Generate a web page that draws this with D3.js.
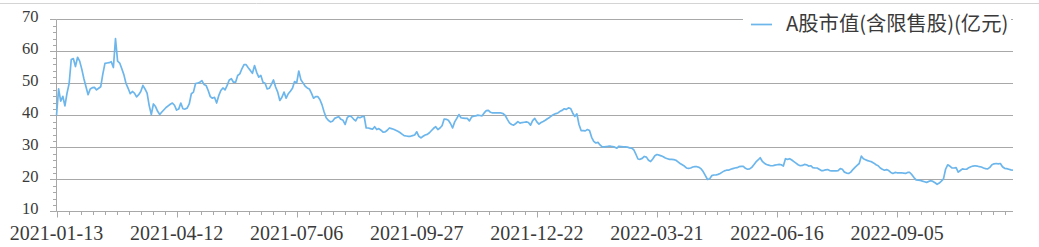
<!DOCTYPE html>
<html>
<head>
<meta charset="utf-8">
<script src="https://cdn.jsdelivr.net/npm/d3@7"></script>
<style>
  html, body { margin: 0; padding: 0; background: #fff; overflow: hidden; }
</style>
</head>
<body>
<div id="chart"></div>
<script>
// ── Data ────────────────────────────────────────────────────────────────────
const SERIES_NAME = "A股市值(含限售股)(亿元)";

// labelled trading days, one every LABEL_EVERY sessions
const DATE_LABELS = [
  "2021-01-13", "2021-04-12", "2021-07-06", "2021-09-27",
  "2021-12-22", "2022-03-21", "2022-06-16", "2022-09-05",
];
const LABEL_EVERY = 57;
const MINOR_PER_LABEL = 10;

const Y_TICKS = [10, 20, 30, 40, 50, 60, 70];

// daily market cap (亿元)
const MARKET_CAP = [
  40, 48.3, 44.5, 46, 43, 47, 50, 57.5, 57.8, 55.3,
  58.2, 57, 54.5, 51.5, 49, 46.5, 48.3, 48.7, 48.8, 48,
  48.5, 49, 53, 56.3, 56.4, 56.5, 56.8, 55, 64, 57,
  56.4, 54.6, 52.7, 50, 48.5, 46.8, 47.5, 47, 45.8, 46.5,
  47.5, 49.4, 48.3, 47, 43.1, 40.3, 43.6, 42.8, 41.3, 40.3,
  41.1, 41.8, 42.5, 43, 43.5, 43.9, 43.2, 41.7, 42, 43.9,
  42.1, 42, 42.3, 43.6, 46.8, 47.3, 50, 50.1, 50.4, 50.9,
  49.7, 49.4, 47.8, 45.9, 45.4, 45.7, 43.9, 46.2, 47.8, 48.6,
  48, 49.4, 51.1, 51.5, 50.4, 50.4, 52.5, 53, 54.6, 55.9,
  55.9, 54.9, 54.1, 53.2, 55.6, 53.5, 52, 52.5, 50.4, 50.1,
  48.3, 48.5, 49.7, 51.1, 48.9, 47.3, 44.7, 45.7, 47.3, 45.4,
  46.8, 47.6, 48.5, 50.6, 50.2, 53.9, 51.2, 50.2, 49.2, 48.6,
  48.3, 47, 45.4, 45.9, 45.9, 45, 43.4, 41.2, 39.3, 38.5,
  38, 38.2, 39.1, 39.4, 39.6, 38.8, 38.5, 37.2, 39.3, 39.9,
  39.6, 38.9, 38.3, 39.5, 39.3, 39.6, 39.8, 36.1, 36.1, 35.9,
  35.7, 36.5, 35.6, 35.9, 35.4, 34.8, 34.9, 35.4, 36.1, 35.9,
  35.7, 35.4, 35.1, 34.7, 34.2, 33.7, 33.6, 33.5, 33.5, 33.7,
  33.9, 34.9, 33.5, 33, 33.5, 33.9, 34.1, 34.6, 35.3, 36,
  36.5, 35.6, 36.1, 36.8, 38.9, 38.8, 38.5, 37.5, 36.1, 38,
  39.1, 40.3, 39.3, 39.2, 39.1, 39.1, 38.3, 39.5, 39.8, 39.9,
  40.1, 40, 39.9, 40.8, 41.5, 41.6, 41, 40.8, 40.8, 40.8,
  40.8, 40.8, 40.6, 40, 38.8, 37.7, 37.2, 37, 37.5, 38.1,
  37.6, 37.8, 37.9, 38, 37.8, 37, 38.4, 39.1, 38, 37.3,
  37.8, 38.1, 38.5, 39, 39.4, 39.9, 40.3, 40.6, 40.8, 41.3,
  41.6, 42.1, 41.9, 42.4, 42.2, 40.8, 39.7, 40.5, 37.2, 35.3,
  35.3, 35.2, 35.6, 35.3, 33.2, 31.9, 31.4, 31.6, 30.8, 30.2,
  30.2, 30.3, 30.4, 30.4, 30.3, 30.1, 29.8, 30.4, 30.3, 30.2,
  30.2, 30.1, 29.9, 29.8, 29.3, 27.9, 26.4, 26.3, 26.6, 27.2,
  27, 26, 25.6, 26.4, 27.4, 27.8, 27.6, 27.4, 27.1, 26.7,
  26.5, 26.3, 26.3, 26.2, 26, 25.5, 25, 24.6, 24.2, 23.6,
  23.5, 23.6, 23.9, 24, 24, 23.8, 23.3, 22.4, 21.2, 20,
  20.2, 21.2, 21.4, 21.4, 21.6, 21.9, 22.3, 22.7, 22.9, 22.9,
  23.2, 23.4, 23.6, 23.7, 24, 24.1, 24.1, 23.5, 23.2, 23.3,
  23.8, 24.6, 25.5, 26.1, 26.8, 25.7, 25.1, 24.7, 24.5, 24.3,
  24.3, 24.5, 24.6, 24.7, 24.6, 24.2, 26.5, 26.3, 26.5, 26.1,
  25.6, 25.1, 24.6, 24.3, 24.4, 24.7, 24.6, 24.2, 24.3, 23.7,
  23.6, 23.6, 23.2, 22.8, 22.8, 23, 23.1, 22.8, 22.7, 22.7,
  22.7, 22.8, 23.4, 23.2, 22.3, 22, 21.9, 22.3, 23.1, 23.8,
  24.4, 25, 27.3, 26.5, 26.2, 25.9, 25.7, 25.5, 25.1, 24.6,
  24.3, 23.6, 23.2, 22.9, 23.1, 22.8, 22.2, 21.9, 22.2, 22.1,
  22.1, 22.1, 22, 21.9, 22.2, 22.2, 21.5, 20.6, 19.9, 19.8,
  19.7, 19.5, 19.3, 19.1, 19.4, 19.6, 19.4, 19, 18.5, 18.9,
  19.5, 20.2, 23.2, 24.6, 24.2, 23.6, 23.6, 23.7, 22.3, 22.8,
  23.3, 23.2, 23.2, 23.7, 24, 24.2, 24.3, 24.2, 24, 23.9,
  23.6, 23.4, 23.3, 23.8, 24.6, 24.9, 25, 24.9, 25, 24,
  23.5, 23.4, 23.2, 23, 22.9,
];

// ── Layout / style ──────────────────────────────────────────────────────────
const W = 1039, H = 247;
const LINE_COLOR = "#6cb6ec";
const GRID_COLOR = "#a8a8a8";
const TEXT_COLOR = "#3a3a3a";
const AXIS_FONT = "Liberation Serif, DejaVu Serif, serif";
const LEGEND_FONT = "Noto Sans CJK SC, Noto Sans, sans-serif";

const svg = d3.select("#chart").append("svg")
  .attr("width", W).attr("height", H)
  .style("display", "block");

// thin frame line at the very top of the panel
svg.append("line")
  .attr("x1", 0).attr("x2", W).attr("y1", 3.5).attr("y2", 3.5)
  .attr("stroke", "#d4d4d4").attr("stroke-width", 1);

const x = d3.scaleLinear().domain([0, MARKET_CAP.length - 1]).range([56.5, 1013]);
const y = d3.scaleLinear().domain([10, 70]).range([211.5, 19.5]);
const [x0, x1] = x.range();

// ── Grid ────────────────────────────────────────────────────────────────────
svg.append("g").selectAll("line")
  .data(Y_TICKS.slice(1))
  .join("line")
  .attr("x1", x0).attr("x2", x1)
  .attr("y1", (d) => y(d)).attr("y2", (d) => y(d))
  .attr("stroke", GRID_COLOR).attr("stroke-width", 1);

// ── Y axis ──────────────────────────────────────────────────────────────────
const yAx = svg.append("g");
yAx.append("line")
  .attr("x1", x0).attr("x2", x0).attr("y1", y(70)).attr("y2", y(10))
  .attr("stroke", GRID_COLOR);
yAx.selectAll("line.minor")
  .data(d3.range(10, 70.01, 2).filter((v) => v % 10 !== 0))
  .join("line").attr("class", "minor")
  .attr("x1", x0 - 3.5).attr("x2", x0)
  .attr("y1", (d) => Math.round(y(d)) + 0.5).attr("y2", (d) => Math.round(y(d)) + 0.5)
  .attr("stroke", GRID_COLOR);
yAx.selectAll("line.major")
  .data(Y_TICKS)
  .join("line").attr("class", "major")
  .attr("x1", x0 - 6.5).attr("x2", x0)
  .attr("y1", (d) => y(d)).attr("y2", (d) => y(d))
  .attr("stroke", GRID_COLOR);
yAx.selectAll("text")
  .data(Y_TICKS)
  .join("text")
  .attr("x", 38.5).attr("y", (d) => y(d) + 2.5)
  .attr("text-anchor", "end")
  .style("font-family", AXIS_FONT).style("font-size", "16.5px")
  .attr("fill", TEXT_COLOR)
  .text((d) => d);

// ── X axis ──────────────────────────────────────────────────────────────────
const xAx = svg.append("g");
xAx.append("line")
  .attr("x1", x0).attr("x2", x1).attr("y1", y(10)).attr("y2", y(10))
  .attr("stroke", GRID_COLOR);
const minorStep = LABEL_EVERY / MINOR_PER_LABEL;
xAx.selectAll("line.minor")
  .data(d3.range(0, MARKET_CAP.length, minorStep).filter((d, i) => i % MINOR_PER_LABEL !== 0))
  .join("line").attr("class", "minor")
  .attr("x1", (d) => Math.round(x(d)) + 0.5).attr("x2", (d) => Math.round(x(d)) + 0.5)
  .attr("y1", y(10)).attr("y2", y(10) + 3.5)
  .attr("stroke", GRID_COLOR);
const labelled = DATE_LABELS.map((lab, k) => ({ lab, idx: k * LABEL_EVERY }));
xAx.selectAll("line.major")
  .data(labelled)
  .join("line").attr("class", "major")
  .attr("x1", (d) => Math.round(x(d.idx)) + 0.5).attr("x2", (d) => Math.round(x(d.idx)) + 0.5)
  .attr("y1", y(10)).attr("y2", y(10) + 6)
  .attr("stroke", GRID_COLOR);
xAx.selectAll("text")
  .data(labelled)
  .join("text")
  .attr("x", (d) => x(d.idx)).attr("y", 240)
  .attr("text-anchor", "middle")
  .style("font-family", AXIS_FONT).style("font-size", "20px")
  .attr("fill", TEXT_COLOR)
  .text((d) => d.lab);

// ── Series line ─────────────────────────────────────────────────────────────
const line = d3.line()
  .x((d, i) => x(i))
  .y((d) => y(d));
svg.append("path")
  .datum(MARKET_CAP)
  .attr("d", line)
  .attr("fill", "none")
  .attr("stroke", LINE_COLOR)
  .attr("stroke-width", 1.7)
  .attr("stroke-linejoin", "round");

// ── Legend (white box over the top grid line) ───────────────────────────────
const leg = svg.append("g");
leg.append("rect")
  .attr("x", 743).attr("y", 8).attr("width", 268).attr("height", 28)
  .attr("fill", "#fff");
leg.append("line")
  .attr("x1", 751).attr("x2", 772).attr("y1", 24.5).attr("y2", 24.5)
  .attr("stroke", LINE_COLOR).attr("stroke-width", 1.7);
leg.append("text")
  .attr("x", 786).attr("y", 31)
  .style("font-family", LEGEND_FONT).style("font-size", "20.3px")
  .attr("fill", TEXT_COLOR)
  .text(SERIES_NAME);
</script>
</body>
</html>
